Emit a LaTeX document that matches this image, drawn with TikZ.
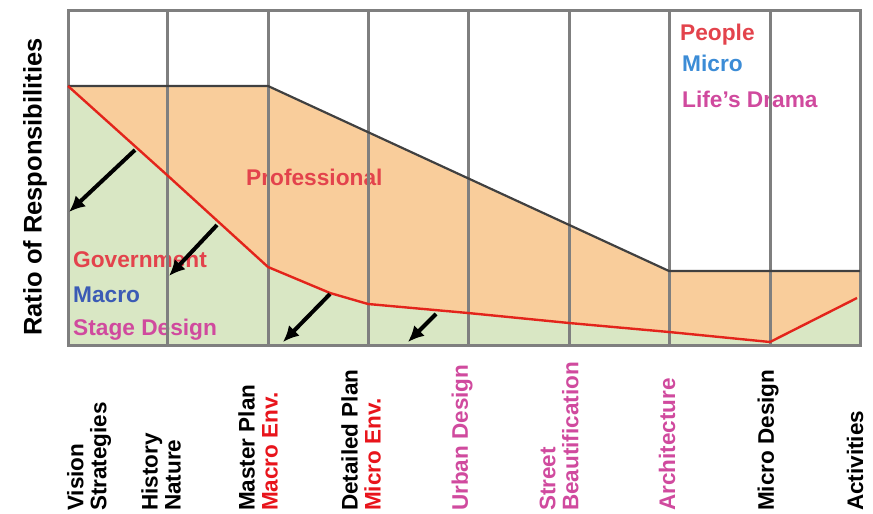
\documentclass[tikz,border=0pt]{standalone}
\usepackage{fontspec}
\setmainfont{Liberation Sans}
\usetikzlibrary{arrows.meta}

\definecolor{gridgray}{HTML}{7F7F7F}
\definecolor{proforange}{HTML}{F9CD9B}
\definecolor{govgreen}{HTML}{D9E7C4}
\definecolor{linered}{HTML}{E3241B}
\definecolor{textred}{HTML}{E3434C}
\definecolor{macroblue}{HTML}{3B5BB5}
\definecolor{microblue}{HTML}{3C8CD6}
\definecolor{dramapink}{HTML}{D04A9E}
\definecolor{envred}{HTML}{E8141B}

\begin{document}
\begin{tikzpicture}[x=1pt,y=-1pt,
    label/.style={inner sep=0pt,font=\fontsize{22.7}{23}\selectfont\bfseries},
    phase/.style={inner sep=0pt,font=\fontsize{22.5}{23}\selectfont\bfseries,rotate=90,anchor=west,align=left},
    grid/.style={gridgray,line width=3pt},
    shift arrow/.style={black,line width=4pt,-{Latex[length=16pt,width=15pt]}}]
    \useasboundingbox (0,0) rectangle (873,514);
    \fill[proforange] (68,86) -- (268,86) -- (669,271) -- (860,271) -- (860,345) -- (68,345) -- cycle;
    \fill[govgreen] (68,86) -- (167,175) -- (268,267) -- (330,293) -- (368,304) -- (468,313) -- (569,323) -- (669,332) -- (770,342) -- (857,298) -- (860,297) -- (860,345) -- (68,345) -- cycle;
    \node[label,anchor=base west,textred] (prof) at (246,185) {Professional};
    \node[label,anchor=base west,textred] (gov) at (73,267) {Government};
    \node[label,anchor=base west,macroblue] (macro) at (73,302) {Macro};
    \node[label,anchor=base west,dramapink] (stage) at (73,335) {Stage Design};
    \node[label,anchor=base west,textred] (people) at (680,40) {People};
    \node[label,anchor=base west,microblue] (micro) at (682,71) {Micro};
    \node[label,anchor=base west,dramapink] (drama) at (682,107) {Life’s Drama};
    \foreach \x in {167,268,368,468,569,669,770}
        \draw[grid] (\x,10) -- (\x,345);
    \draw[grid] (68,10) rectangle (860,345);
    \draw[black!75,line width=2.2pt] (68,86) -- (268,86) -- (669,271) -- (860,271);
    \draw[linered,line width=2.4pt,line join=round] (68,86) -- (167,175) -- (268,267) -- (330,293) -- (368,304) -- (468,313) -- (569,323) -- (669,332) -- (770,342) -- (857,298);
    \coordinate (a1) at (135,150);
    \coordinate (b1) at (69,212);
    \coordinate (a2) at (217,225);
    \coordinate (b2) at (169,276);
    \coordinate (a3) at (330,294);
    \coordinate (b3) at (283,342);
    \coordinate (a4) at (436,314);
    \coordinate (b4) at (408,342);
    \foreach \i in {1,...,4}
        \draw[shift arrow] (a\i) -- (b\i);
    \node[rotate=90,inner sep=0pt,font=\fontsize{25.5}{26}\selectfont\bfseries] (ratio) at (35,187) {Ratio of Responsibilities};
    \node[phase] (vision) at (89,511) {Vision\\Strategies};
    \node[phase] (history) at (161,511) {History\\Nature};
    \node[phase] (master) at (258,511) {Master Plan\\\textcolor{envred}{Macro Env.}};
    \node[phase] (detailed) at (361,511) {Detailed Plan\\\textcolor{envred}{Micro Env.}};
    \node[phase,dramapink] (urban) at (462,511) {Urban Design};
    \node[phase,dramapink] (street) at (559,511) {Street\\Beautification};
    \node[phase,dramapink] (arch) at (667,511) {Architecture};
    \node[phase] (microdes) at (768,511) {Micro Design};
    \node[phase] (activ) at (855,511) {Activities};
\end{tikzpicture}
\end{document}
